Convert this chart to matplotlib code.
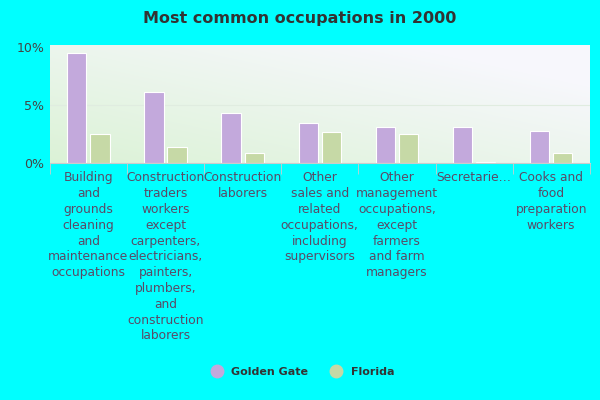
import numpy as np
import matplotlib
matplotlib.use("Agg")
import matplotlib.pyplot as plt
from matplotlib.lines import Line2D

categories = [
    "Building\nand\ngrounds\ncleaning\nand\nmaintenance\noccupations",
    "Construction\ntraders\nworkers\nexcept\ncarpenters,\nelectricians,\npainters,\nplumbers,\nand\nconstruction\nlaborers",
    "Construction\nlaborers",
    "Other\nsales and\nrelated\noccupations,\nincluding\nsupervisors",
    "Other\nmanagement\noccupations,\nexcept\nfarmers\nand farm\nmanagers",
    "Secretarie\u2026",
    "Cooks and\nfood\npreparation\nworkers",
]
golden_gate = [9.5, 6.1, 4.3, 3.5, 3.1, 3.1, 2.8]
florida = [2.5, 1.4, 0.9, 2.7, 2.5, 0.1, 0.9]
y_ticks = [0, 5, 10]
y_labels = ["0%", "5%", "10%"]

c_gg = "#c3a9dc"
c_fl = "#c6d9a6"
txt = "#5a4a66"

fig = plt.figure(figsize=(6, 4), dpi=100)
fig.patch.set_facecolor("#00ffff")
ax = fig.add_axes([0.083, 0.5925, 0.9, 0.295])

# gradient background: light green lower-left to white upper-right
gx, gy = np.meshgrid(np.linspace(0, 1, 200), np.linspace(0, 1, 100))
t = np.clip((gx * 0.6 + gy * 0.6), 0, 1)
green = np.array([0.86, 0.95, 0.84])
white = np.array([0.97, 0.97, 0.99])
img = green[None, None, :] * (1 - t[..., None]) + white[None, None, :] * t[..., None]
n = len(categories)
ax.imshow(img, extent=[-0.5, n - 0.5, 0, 10.2], origin="lower", aspect="auto", zorder=0)

x = np.arange(n)
w = 0.25
ax.bar(x - 0.15, golden_gate, w, color=c_gg, edgecolor="white", linewidth=0.8, zorder=2)
ax.bar(x + 0.15, florida, w, color=c_fl, edgecolor="white", linewidth=0.8, zorder=2)
ax.axhline(5, color="#e0ece0", lw=0.8, zorder=1)

ax.set_xlim(-0.5, n - 0.5)
ax.set_ylim(0, 10.2)
ax.set_yticks(y_ticks)
ax.set_yticklabels(y_labels, fontsize=9, color="#444444")
ax.set_xticks(x)
ax.set_xticklabels(categories, fontsize=8.8, color=txt, linespacing=1.28)
ax.tick_params(axis="x", length=0, pad=6)
ax.tick_params(axis="y", length=0, pad=4)
ax.set_xticks(np.arange(n + 1) - 0.5, minor=True)
ax.tick_params(axis="x", which="minor", length=8, color="#cccccc")
for s in ["top", "right", "left"]:
    ax.spines[s].set_visible(False)
ax.spines["bottom"].set_color("#cccccc")

fig.text(0.5, 0.955, "Most common occupations in 2000", ha="center", va="center",
         fontsize=11.5, fontweight="bold", color="#333333")

handles = [Line2D([], [], marker="o", ls="", color=c_gg, markersize=9, label="Golden Gate"),
           Line2D([], [], marker="o", ls="", color=c_fl, markersize=9, label="Florida")]
leg = fig.legend(handles=handles, loc="center", bbox_to_anchor=(0.5, 0.07), ncol=2,
                 frameon=False, fontsize=8, handletextpad=0.3, columnspacing=1.5)
for tx in leg.get_texts():
    tx.set_fontweight("bold")
    tx.set_color("#333333")

fig.savefig("out.png", dpi=100, facecolor=fig.get_facecolor())
